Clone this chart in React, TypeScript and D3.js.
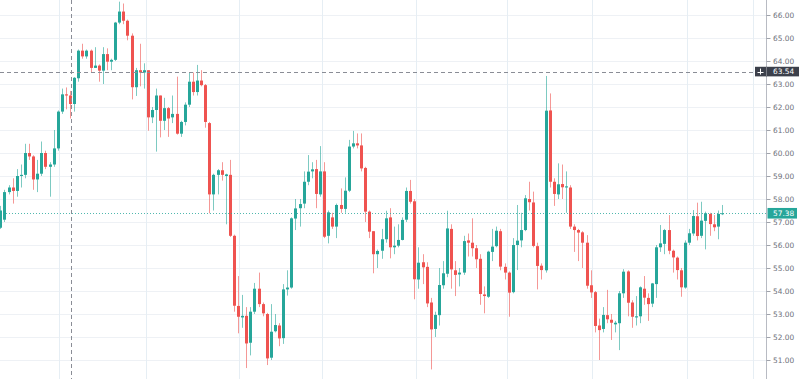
import React from "react";
import * as d3 from "d3";

const openP = [
  56.75, 57.1, 58.3, 58.5, 58.35, 59.0, 59.05, 60.0, 59.85, 58.85, 59.1, 60.0, 59.4, 59.5, 60.2, 61.8,
  62.55, 62.5, 62.13, 63.25, 64.45, 64.2, 64.45, 63.7, 63.8, 63.58, 64.3, 63.97, 64.05, 65.67, 66.15, 65.75,
  65.1, 62.86, 63.6, 63.5, 63.6, 61.55, 61.87, 62.5, 61.4, 61.95, 61.55, 61.7, 60.84, 61.35, 62.1, 63.1,
  62.65, 63.15, 62.95, 61.3, 58.2, 59.05, 59.25, 59.0, 59.05, 56.4, 53.35, 52.85, 52.92,
  51.75, 53.1, 54.1, 53.43, 53.0, 51.1, 52.25, 52.5, 51.95, 54.07, 54.15, 57.15, 57.6, 57.8, 58.75, 59.2,
  59.3, 58.2, 59.2, 56.4, 57.2, 56.8, 57.74, 57.57, 58.36, 60.28, 60.42, 60.33, 59.35, 57.45, 56.6, 55.6,
  55.75, 56.25, 57.2, 55.9, 55.97, 56.22, 57.1, 58.35, 57.9, 54.5, 55.25, 55.05, 53.5, 52.35, 52.95, 54.25,
  54.75, 56.7, 54.9, 54.72, 54.8, 56.2, 56.1, 55.86, 55.4, 53.85, 53.75, 55.7, 55.95, 56.6, 55.05,
  54.8, 53.95, 56.0, 56.2, 56.65, 58.0, 57.85, 55.95, 55.1, 54.9, 61.85, 58.75, 58.2, 58.65, 58.5, 58.5,
  56.8, 56.65, 56.55, 56.1, 54.25, 53.95, 52.5, 52.35, 52.95, 52.75, 52.55, 52.6, 53.9, 54.85,
  53.5, 52.85, 52.9, 54.1, 53.7, 53.45, 54.3, 55.9, 56.05, 56.65, 55.75, 55.45, 54.9, 54.15, 56.1, 56.5,
  57.25, 56.4, 57.05, 57.35, 56.9, 56.8, 57.35,
];
const highP = [
  57.7, 58.4, 58.6, 58.9, 59.3, 59.5, 60.4, 60.4, 59.9, 59.7, 60.5, 60.1, 59.6, 61.0, 61.85, 62.8,
  62.85, 62.7, 63.3, 64.5, 64.75, 64.5, 64.5, 64.6, 63.85, 64.6, 64.55, 64.1, 65.7, 66.58, 66.5, 65.8,
  65.2, 63.7, 64.75, 63.9, 63.6, 62.0, 62.8, 62.5, 62.4, 62.0, 62.5, 63.32, 61.4, 62.2, 63.5, 63.5,
  63.83, 63.6, 63.0, 61.35, 59.1, 59.3, 59.6, 59.1, 59.7, 56.45, 54.65, 53.83, 53.3,
  53.3, 54.35, 54.8, 53.5, 53.05, 53.43, 53.0, 52.6, 54.3, 54.9, 57.2, 58.0, 58.0, 59.2, 59.91, 59.6,
  59.7, 60.3, 59.6, 57.5, 57.4, 57.8, 58.46, 58.94, 60.57, 60.96, 60.85, 60.85, 59.4, 57.5, 56.6, 55.8,
  56.7, 57.49, 57.6, 56.8, 56.9, 57.2, 58.5, 58.83, 58.0, 55.9, 55.6, 55.25, 53.7, 53.1, 55.0, 55.3,
  57.49, 56.9, 55.3, 55.0, 56.4, 56.5, 57.16, 56.0, 55.6, 54.2, 55.75, 56.7, 56.8, 56.7, 55.2,
  54.85, 56.3, 57.74, 57.4, 58.17, 58.75, 58.32, 56.1, 55.2, 63.35, 62.59, 58.9, 59.55, 59.5, 59.2,
  58.6, 56.9, 56.7, 56.6, 56.43, 54.9, 54.0, 52.8, 53.3, 54.05, 53.0, 52.7, 54.0, 54.95, 54.9,
  53.6, 53.78, 54.2, 54.65, 53.9, 54.35, 56.0, 56.87, 56.7, 57.3, 55.8, 55.5, 55.0, 56.2, 56.7, 57.52,
  57.84, 57.88, 57.45, 57.4, 57.3, 57.5, 57.74,
];
const lowP = [
  56.7, 57.0, 58.2, 57.8, 58.1, 58.5, 58.9, 59.7, 58.4, 58.3, 59.0, 59.3, 58.1, 59.4, 60.1, 61.7,
  61.9, 61.5, 61.8, 63.1, 64.1, 64.1, 63.5, 63.7, 63.1, 63.0, 63.6, 63.6, 64.0, 65.6, 65.6, 64.9,
  62.33, 62.48, 62.9, 62.8, 60.97, 61.3, 60.06, 60.68, 61.0, 60.7, 61.3, 60.8, 60.7, 61.2, 62.0, 62.5,
  62.5, 62.9, 61.1, 57.38, 57.5, 58.2, 58.8, 56.9, 56.35, 53.1, 52.16, 52.4, 50.65,
  51.2, 53.0, 53.3, 52.9, 50.78, 51.0, 52.2, 51.6, 51.7, 53.8, 54.1, 56.65, 56.8, 57.6, 58.6, 58.9,
  57.6, 58.1, 56.3, 56.07, 56.7, 56.3, 57.4, 57.4, 58.3, 60.2, 60.2, 59.2, 57.0, 56.3, 54.77, 55.0,
  55.4, 56.1, 55.42, 55.6, 55.9, 56.2, 57.0, 57.8, 53.64, 54.1, 54.3, 53.3, 50.59, 52.0, 52.5, 54.1,
  54.6, 54.1, 53.78, 54.2, 54.7, 55.5, 55.5, 55.0, 53.4, 53.03, 53.7, 55.3, 55.9, 54.9, 54.5,
  52.88, 53.9, 54.91, 55.9, 56.6, 57.5, 55.9, 54.07, 54.5, 54.8, 58.5, 57.7, 58.0, 58.0, 57.4,
  56.7, 55.7, 55.3, 55.0, 54.1, 53.7, 52.2, 51.0, 52.2, 52.6, 51.87, 52.2, 51.43, 53.7, 52.9,
  52.4, 52.5, 52.6, 53.4, 52.7, 53.3, 53.7, 55.7, 55.6, 55.6, 54.8, 54.5, 53.75, 54.1, 56.0, 56.4,
  56.2, 56.3, 55.81, 56.4, 56.6, 56.25, 57.3,
];
const closeP = [
  57.5, 58.3, 58.5, 58.35, 59.0, 59.05, 60.0, 59.85, 58.85, 59.1, 60.0, 59.4, 59.5, 60.2, 61.8, 62.55,
  62.5, 62.13, 63.27, 64.45, 64.2, 64.45, 63.7, 63.8, 63.58, 64.3, 63.97, 64.05, 65.67, 66.15, 65.75, 65.1,
  62.86, 63.6, 63.5, 63.6, 61.55, 61.87, 62.5, 61.4, 61.95, 61.5, 61.7, 60.84, 61.35, 62.1, 63.1, 62.65,
  63.15, 62.95, 61.35, 58.2, 59.05, 59.25, 59.05, 59.07, 56.4, 53.36, 52.88, 52.92, 51.72,
  53.1, 54.1, 53.43, 53.03, 51.07, 52.23, 52.52, 51.94, 54.07, 54.15, 57.16, 57.59, 57.78, 58.75, 59.19, 59.29,
  58.22, 59.2, 56.36, 57.42, 56.8, 57.74, 57.57, 58.36, 60.28, 60.42, 60.33, 59.33, 57.45, 56.58, 55.6, 55.74,
  56.25, 57.16, 55.9, 55.97, 56.22, 57.09, 58.35, 57.88, 54.51, 55.23, 55.03, 53.46, 52.33, 52.96, 54.26, 54.77,
  56.72, 54.94, 54.7, 54.8, 56.17, 56.1, 55.86, 55.38, 53.87, 53.78, 55.71, 55.93, 56.62, 55.06, 54.8,
  53.93, 56.0, 56.19, 56.65, 58.03, 57.86, 55.96, 55.09, 54.91, 61.84, 58.75, 58.22, 58.64, 58.51, 58.55,
  56.8, 56.65, 56.54, 56.1, 54.23, 53.94, 52.48, 52.3, 52.96, 52.77, 52.62, 52.62, 53.9, 54.84, 53.49,
  52.88, 52.9, 54.16, 53.71, 53.43, 54.33, 55.9, 56.07, 56.65, 55.75, 55.46, 54.91, 54.16, 56.1, 56.51, 57.26,
  56.39, 57.06, 57.38, 56.91, 56.77, 57.35, 57.38,
];

// vertical time-grid positions, in candle-index units
const timeGrid = [14.19, 35.4, 58.1, 78.35, 101.3, 123.5, 144.2, 167.4, 183.5];
const crosshairIndex = 17;
const crosshairPrice = 63.54;
const lastPrice = 57.38;

const UP = "#26a69a";
const DOWN = "#ef5350";
const W = 800;
const H = 379;
const AXIS_X = 766.5;

export default function App() {
  const n = closeP.length;
  const x = d3.scaleLinear().domain([0, n - 1]).range([0.83, 722.3]);
  const y = d3.scaleLinear().domain([51, 66]).range([360, 15]);
  const ticks = y.ticks(15);
  const fmt = d3.format(".2f");
  const crisp = (v: number) => Math.round(v) + 0.5;
  const font = "'DejaVu Sans', sans-serif";
  const fs = 7.4;

  const candles = d3.range(n).map((i) => {
    const o = openP[i], c = closeP[i], h = highP[i], l = lowP[i];
    const up = c >= o;
    const col = up ? UP : DOWN;
    const left = Math.round(x(i) - 1.5);
    const top = y(Math.max(o, c));
    const bh = Math.max(1, Math.abs(y(o) - y(c)));
    return (
      <g key={i}>
        <line x1={left + 1.5} x2={left + 1.5} y1={y(h)} y2={y(l)} stroke={col} strokeOpacity={0.6} strokeWidth={1} />
        <rect x={left} y={top} width={3} height={bh} fill={col} />
      </g>
    );
  });

  const cy = y(crosshairPrice);
  const ly = y(lastPrice);

  return (
    <svg width={W} height={H} style={{ position: "fixed", left: 0, top: 0, background: "#fff" }}>
      <rect x={0} y={0} width={W} height={H} fill="#ffffff" />
      {ticks.map((t) => (
        <line key={"h" + t} x1={0} x2={AXIS_X} y1={crisp(y(t))} y2={crisp(y(t))} stroke="#eef1f5" strokeWidth={1} />
      ))}
      {timeGrid.map((g) => (
        <line key={"v" + g} x1={crisp(x(g))} x2={crisp(x(g))} y1={0} y2={H} stroke="#e6eef4" strokeWidth={1} />
      ))}
      {candles}
      <line x1={0} x2={AXIS_X} y1={crisp(ly)} y2={crisp(ly)} stroke={UP} strokeOpacity={0.8} strokeWidth={1} strokeDasharray="1,2" />
      <line x1={crisp(x(crosshairIndex))} x2={crisp(x(crosshairIndex))} y1={0} y2={H} stroke="#8a8d96" strokeWidth={1} strokeDasharray="4,3" />
      <line x1={0} x2={755} y1={crisp(cy)} y2={crisp(cy)} stroke="#8a8d96" strokeWidth={1} strokeDasharray="4,3" />
      {/* price axis */}
      <line x1={AXIS_X} x2={AXIS_X} y1={0} y2={H} stroke="#b8bbc3" strokeWidth={1} />
      {ticks.map((t) => (
        <g key={"t" + t}>
          <line x1={AXIS_X} x2={AXIS_X + 4} y1={crisp(y(t))} y2={crisp(y(t))} stroke="#a0a3ab" strokeWidth={1} />
          <text x={773} y={y(t)} dy="0.35em" fontSize={fs} fontFamily={font} fill="#6e717b">
            {fmt(t)}
          </text>
        </g>
      ))}
      {/* last price label */}
      <rect x={767.5} y={ly - 5.3} width={29.5} height={10.6} fill={UP} />
      <text x={773} y={ly} dy="0.35em" fontSize={fs} fontFamily={font} fill="#ffffff">
        {fmt(lastPrice)}
      </text>
      {/* crosshair label */}
      <rect x={755} y={cy - 4.8} width={44} height={9.6} fill="#3c404b" />
      <line x1={AXIS_X} x2={AXIS_X} y1={cy - 4.8} y2={cy + 4.8} stroke="#7a7d86" strokeWidth={1} />
      <line x1={757.5} x2={763.5} y1={crisp(cy)} y2={crisp(cy)} stroke="#ffffff" strokeWidth={1} />
      <line x1={760.5} x2={760.5} y1={cy - 3} y2={cy + 3} stroke="#ffffff" strokeWidth={1} />
      <text x={773} y={cy} dy="0.35em" fontSize={fs} fontFamily={font} fill="#ffffff">
        {fmt(crosshairPrice)}
      </text>
    </svg>
  );
}
